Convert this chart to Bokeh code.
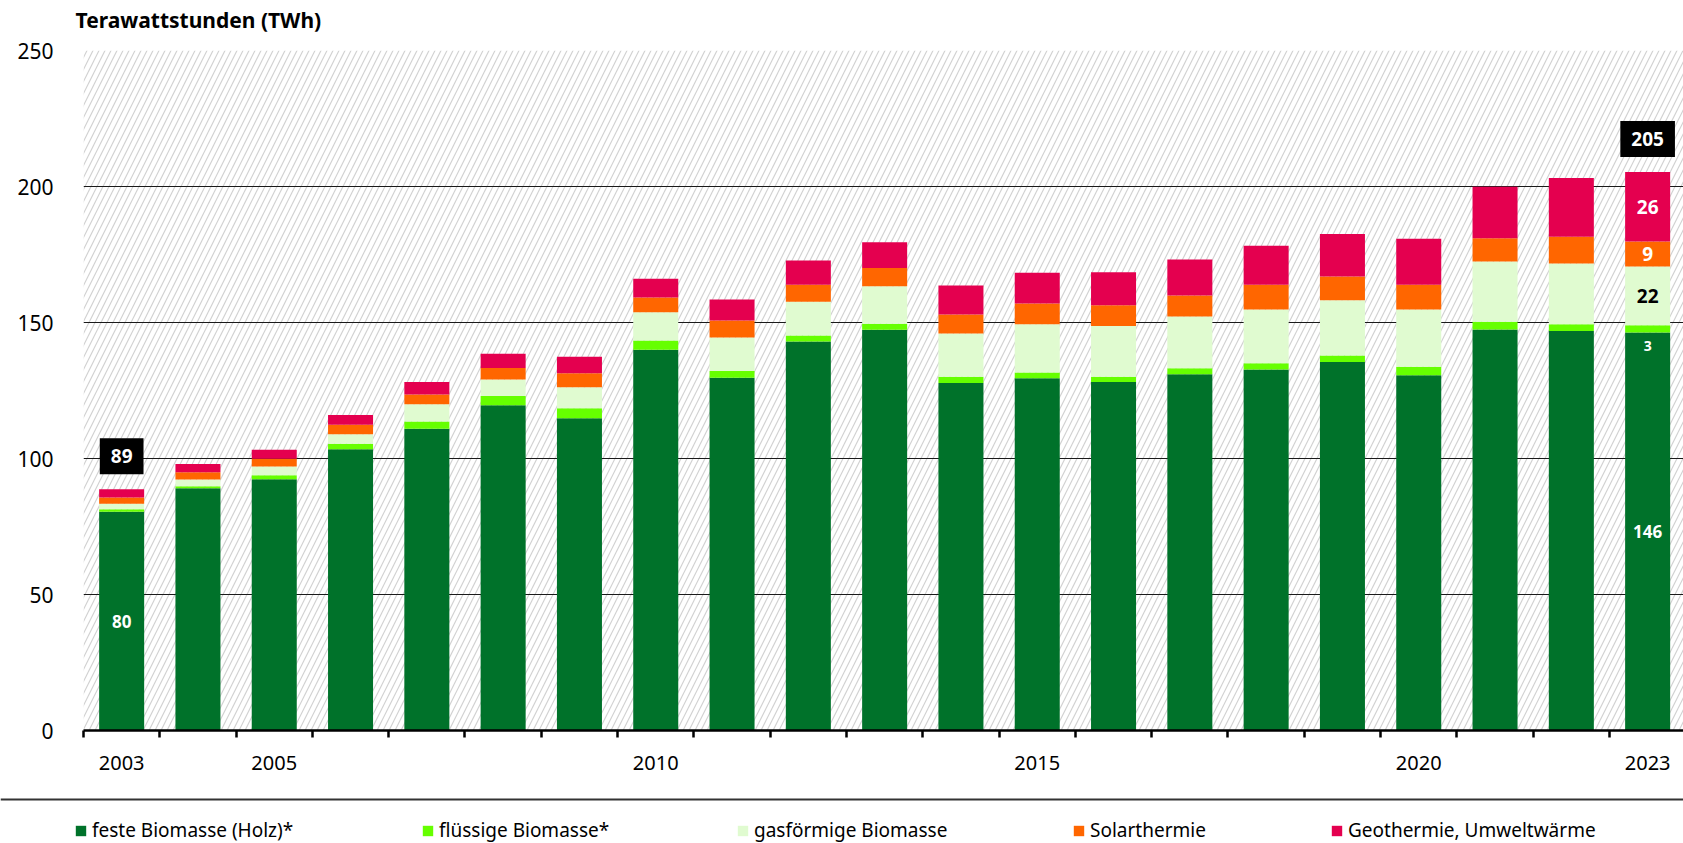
from bokeh.plotting import figure
from bokeh.layouts import column
from bokeh.models import (Range1d, FixedTicker, Legend, LegendItem, Label,
                          Span, ColumnDataSource)
from bokeh.core.properties import value
from bokeh.embed import file_html
from bokeh.resources import INLINE

# ---------------- data (TWh) ----------------
years = list(range(2003, 2024))
wood = [80.4, 89.1, 92.4, 103.4, 110.9, 119.6, 114.8, 140.0, 129.7, 143.0, 147.3,
        127.8, 129.5, 128.1, 131.0, 132.7, 135.5, 130.6, 147.4, 146.9, 146.3]
liquid = [0.9, 0.7, 1.4, 2.0, 2.7, 3.4, 3.7, 3.4, 2.5, 2.2, 2.2,
          2.3, 2.1, 2.0, 2.2, 2.3, 2.4, 3.1, 2.9, 2.5, 2.7]
gas = [2.1, 2.5, 3.3, 3.5, 6.3, 6.0, 7.7, 10.4, 12.3, 12.4, 13.8,
       15.9, 17.8, 18.6, 19.0, 19.8, 20.3, 21.1, 22.1, 22.3, 21.6]
solar = [2.3, 2.6, 2.8, 3.5, 3.6, 4.3, 5.1, 5.4, 6.2, 6.3, 6.7,
         6.9, 7.6, 7.6, 7.7, 9.1, 8.7, 9.1, 8.6, 9.8, 9.2]
geo = [3.0, 3.1, 3.3, 3.6, 4.6, 5.2, 6.1, 6.9, 7.8, 8.9, 9.5,
       10.7, 11.3, 12.2, 13.3, 14.3, 15.6, 16.9, 18.9, 21.6, 25.5]

series_keys = ["wood", "liquid", "gas", "solar", "geo"]
series_names = ["feste Biomasse (Holz)*", "flüssige Biomasse*", "gasförmige Biomasse",
                "Solarthermie", "Geothermie, Umweltwärme"]
series_colors = ["#00722a", "#66ff00", "#e0fbd0", "#ff6600", "#e4004f"]
label_colors = ["white", "white", "black", "white", "white"]

tick_years = [2003, 2005, 2010, 2015, 2020, 2023]
y_ticks = [0, 50, 100, 150, 200, 250]
unit_title = "Terawattstunden (TWh)"
# which segments carry value labels
annotated = {2003: ["wood"], 2023: ["wood", "liquid", "gas", "solar", "geo"]}
total_years = [2003, 2023]

FONT = "Noto Sans"
W = 1683
TITLE_H, MAIN_H, LEG_H = 36, 749, 58
legend_x = [74, 421, 736, 1072, 1330]   # left edge of each legend entry (px)

series = dict(wood=wood, liquid=liquid, gas=gas, solar=solar, geo=geo)


def strip(height):
    fig = figure(width=W, height=height, x_range=Range1d(0, W),
                 y_range=Range1d(0, height), output_backend="svg",
                 toolbar_location=None, min_border=0,
                 x_axis_location=None, y_axis_location=None)
    fig.frame_align = False
    fig.outline_line_color = None
    fig.xgrid.visible = False
    fig.ygrid.visible = False
    fig.background_fill_color = "white"
    fig.border_fill_color = "white"
    return fig


# ---------------- title strip ----------------
tf = strip(TITLE_H)
tf.add_layout(Label(x=75, y=TITLE_H - 19, text=unit_title, text_font=FONT,
                    text_font_style="bold", text_font_size="21px",
                    text_baseline="middle", text_color="black"))

# ---------------- main chart ----------------
data = {"year": years}
running = [0.0] * len(years)
for k in series_keys:
    data[k + "_b"] = list(running)
    running = [r + v for r, v in zip(running, series[k])]
    data[k + "_t"] = list(running)
totals = running
src = ColumnDataSource(data)

p = figure(width=W, height=MAIN_H,
           x_range=Range1d(2002.5, 2023.47), y_range=Range1d(0, 250),
           output_backend="svg", toolbar_location=None,
           min_border_left=83, min_border_right=0, min_border_top=14,
           min_border_bottom=55)
p.frame_align = False
p.outline_line_color = None
p.background_fill_color = "white"
p.border_fill_color = "white"

# hatched plot background
p.quad(left=[p.x_range.start], right=[p.x_range.end], bottom=[p.y_range.start],
       top=[p.y_range.end], fill_color=None, line_color=None,
       hatch_pattern="/", hatch_color="#d2d2d2", hatch_scale=12, hatch_weight=1.2,
       level="image")

renderers = []
for k, c in zip(series_keys, series_colors):
    r = p.vbar(x="year", bottom=k + "_b", top=k + "_t", width=0.59, source=src,
               fill_color=c, line_color=None)
    renderers.append(r)

# segment value labels
lx, ly, lt, lc, lfs, loff = [], [], [], [], [], []
for yr, keys in annotated.items():
    i = years.index(yr)
    for k in keys:
        j = series_keys.index(k)
        b, t = data[k + "_b"][i], data[k + "_t"][i]
        lx.append(yr)
        lt.append(str(round(series[k][i])))
        lc.append(label_colors[j])
        if k == "liquid":
            ly.append(b)
            loff.append(13)
            lfs.append("14px")
        elif k == "wood":
            ly.append((b + t) / 2)
            loff.append(0)
            lfs.append("17px")
        else:
            ly.append((b + t) / 2)
            loff.append(0)
            lfs.append("19px")
seg_src = ColumnDataSource(dict(x=lx, y=ly, text=lt, color=lc, size=lfs, off=loff))
p.text(x="x", y="y", text="text", source=seg_src, text_color="color",
       text_font_size="size", y_offset="off", text_font=value(FONT),
       text_font_style="bold", text_align="center", text_baseline="middle")

# total boxes
tot_src = ColumnDataSource(dict(
    x=total_years,
    y=[totals[years.index(y)] for y in total_years],
    text=[str(round(totals[years.index(y)])) for y in total_years]))
p.text(x="x", y="y", text="text", source=tot_src, text_color="white",
       text_font_size="19px", text_font=value(FONT), text_font_style="bold",
       text_align="center", text_baseline="middle", y_offset=-33,
       background_fill_color="black",
       padding=dict(left=11, right=11, top=11, bottom=11))

# axes
xa = p.xaxis[0]
xa.ticker = FixedTicker(ticks=tick_years,
                        minor_ticks=[y - 0.5 for y in years] + [years[-1] + 0.5])
xa.major_label_overrides = {y: str(y) for y in tick_years}
xa.major_tick_out = 0
xa.major_tick_in = 0
xa.minor_tick_out = 7
xa.minor_tick_in = 0
xa.minor_tick_line_width = 2.5
xa.minor_tick_line_color = "black"
xa.axis_line_width = 2.5
xa.axis_line_color = "black"
xa.major_label_standoff = 18
xa.major_label_text_font = FONT
xa.major_label_text_font_size = "20px"
xa.major_label_text_color = "black"

ya = p.yaxis[0]
ya.ticker = FixedTicker(ticks=y_ticks)
ya.major_tick_out = 0
ya.major_tick_in = 0
ya.minor_tick_out = 0
ya.minor_tick_in = 0
ya.axis_line_color = None
ya.major_label_standoff = 30
ya.major_label_text_font = FONT
ya.major_label_text_font_size = "21px"
ya.major_label_text_color = "black"

p.xgrid.visible = False
p.ygrid.ticker = FixedTicker(ticks=[v for v in y_ticks if v > 0])
p.ygrid.grid_line_color = "#1a1a1a"
p.ygrid.grid_line_width = 1.2

# ---------------- legend strip ----------------
lf = strip(LEG_H)
lf.add_layout(Span(location=LEG_H - 14, dimension="width", line_color="#333333",
                   line_width=2))
for name, c, x0 in zip(series_names, series_colors, legend_x):
    # zero-size proxy glyph that only carries the legend swatch style
    proxy = lf.vbar(x=[0], bottom=[0], top=[0], width=0, fill_color=c,
                    line_color=None)
    lf.add_layout(Legend(items=[LegendItem(label=name, renderers=[proxy])],
                         location=(x0, 0), glyph_width=13, glyph_height=13,
                         label_standoff=5, padding=0, margin=0,
                         background_fill_alpha=0, border_line_color=None,
                         label_text_font=FONT, label_text_font_size="19px",
                         label_text_color="black"), "center")

layout = column(tf, p, lf, spacing=0)
open("out.html", "w").write(file_html(layout, INLINE))
